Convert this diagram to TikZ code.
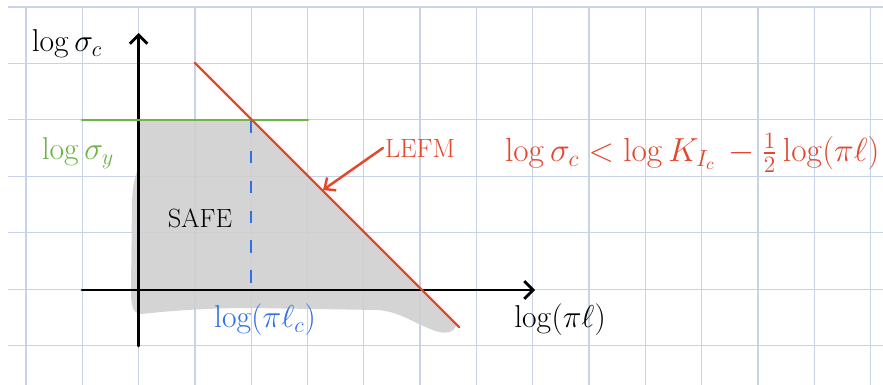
\documentclass[tikz,border=0pt]{standalone}
\usepackage{fix-cm}
\usepackage{amsmath}
\usetikzlibrary{arrows.meta,positioning}

\definecolor{gridblue}{HTML}{C9D3E8}
\definecolor{inkred}{HTML}{E2482E}
\definecolor{inkgreen}{HTML}{6DB443}
\definecolor{inkblue}{HTML}{2E6FEA}
\definecolor{safegray}{HTML}{CFCFCF}

\begin{document}
\begin{tikzpicture}[
    x=0.02cm, y=-0.02cm,
    gridline/.style={draw=gridblue, line width=0.7pt},
    axisline/.style={
        draw=black,
        line width=1.6pt,
        line cap=round,
        -{Straight Barb[length=5pt,width=10pt,line width=1.6pt]}
    },
    inkline/.style={line width=1.4pt, line cap=round},
    inklabel/.style={font=\fontsize{18}{20}\selectfont, inner sep=1pt},
    capslabel/.style={font=\fontsize{15}{17}\selectfont, inner sep=1pt}
]
% --- paper grid (pure numbers, unit px) ---
\def\gx{56.3}   % column step
\def\gy{56.5}   % row step

\useasboundingbox (0,0) rectangle (883,385);
\fill[white] (0,0) rectangle (883,385);

% ---- squared paper ----
\foreach \k in {0,...,15} {
    \draw[gridline] ({26+\gx*\k},7) -- ({26+\gx*\k},385);
}
\draw[gridline] (8,7) -- (883,7);
\foreach \k in {0,...,5} {
    \draw[gridline] (8,{63.3+\gy*\k}) -- (883,{63.3+\gy*\k});
}

% ---- key points ----
\coordinate (yBot)   at (138.6,346);
\coordinate (yTop)   at (138.6,33);
\coordinate (xLeft)  at (82,290);
\coordinate (xRight) at (535,290);
\coordinate (syL)    at (82,120);
\coordinate (syR)    at (308,120);
\coordinate (fmA)    at (195,63);
\coordinate (fmB)    at (459,327);
\coordinate (lcTop)  at (251.2,121);
\coordinate (lcBot)  at (251.2,290);
\coordinate (fmHit)  at (323,190);

% ---- safe region ----
\fill[safegray, fill opacity=0.88]
    (139,121) -- (251,121) -- (456,326)
    .. controls (452,336) and (438,333) .. (428,328)
    .. controls (412,322) and (400,312) .. (378,310)
    -- (250,308)
    .. controls (200,308) and (160,312) .. (141,314)
    .. controls (132,313) and (131,305) .. (131,290)
    -- (132,200)
    .. controls (133,182) and (136,172) .. (139,168)
    -- cycle;

% ---- axes ----
\draw[axisline] (yBot) -- (yTop);
\draw[axisline] (xLeft) -- (xRight);

% ---- yield stress, LEFM line, critical length ----
\draw[inkline, inkgreen] (syL) -- (syR);
\draw[inkline, inkred] (fmA) -- (fmB);
\draw[inkblue, line width=1.2pt, dash pattern=on 7pt off 10pt] (lcTop) -- (lcBot);

% ---- labels ----
\node[inklabel] (sigC) at (67,44) {$\log\sigma_c$};
\node[inklabel, text=inkgreen] (sigY) at (78,153) {$\log\sigma_y$};
\node[capslabel] (safe) at (200,218) {SAFE};
\node[inklabel, text=inkblue] (lenC) at (265,320) {$\log(\pi\ell_c)$};
\node[inklabel] (lenX) at (560,320) {$\log(\pi\ell)$};
\node[capslabel, text=inkred] (lefm) at (420,148) {LEFM};
\node[inklabel, font=\fontsize{19}{21}\selectfont, text=inkred, anchor=west] (crit) at (503,153)
    {$\log\sigma_c < \log K_{I_c}\, - \tfrac{1}{2}\log(\pi\ell)$};

\draw[inkline, inkred, -{Straight Barb[length=5pt,width=9pt,line width=1.4pt]}]
    (lefm.west) -- (fmHit);

\end{tikzpicture}
\end{document}
